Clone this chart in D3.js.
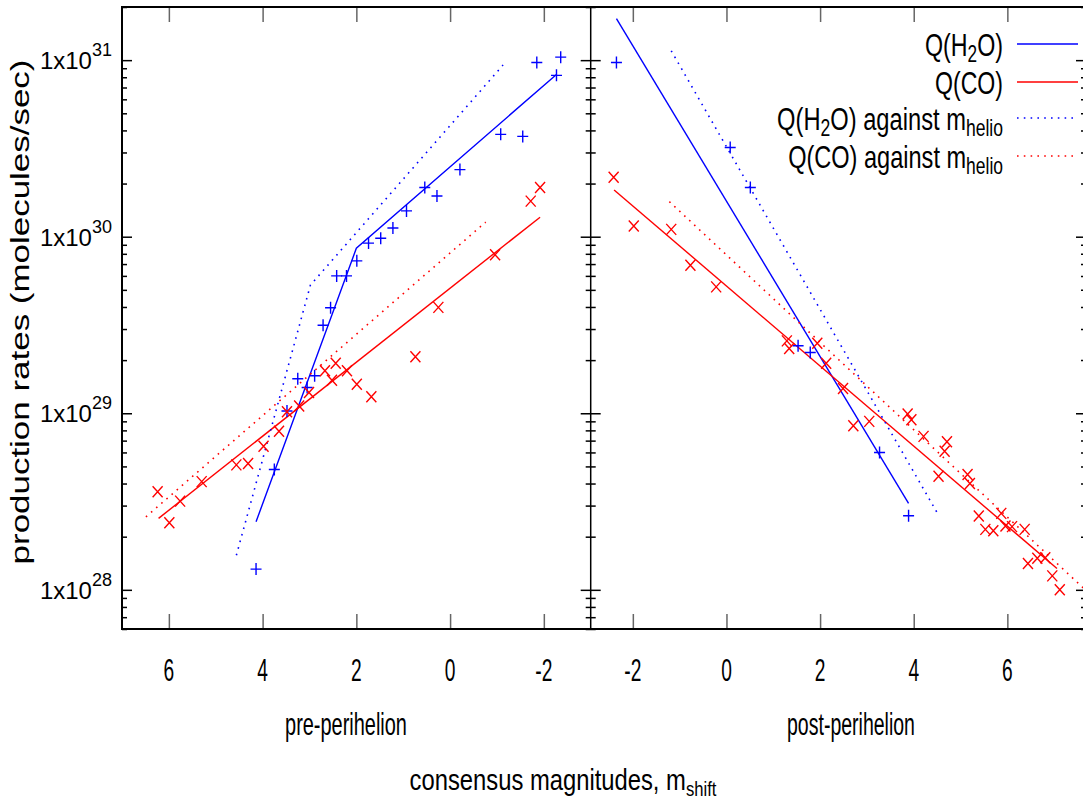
<!DOCTYPE html>
<html><head><meta charset="utf-8">
<script src="https://cdn.jsdelivr.net/npm/d3@7"></script>
<style>html,body{margin:0;padding:0;background:#fff;overflow:hidden}</style>
</head><body><svg id="c" width="1083" height="803"></svg>
<script>
// ---------------- DATA ----------------
// pre-perihelion, Q(H2O) observations
const preH2O_m = [-2.36,-1.85,-2.27,-1.08,-1.55,-0.21,0.28,0.54,0.93,1.22,1.48,1.74,1.99,2.21,2.42,2.55,2.71,2.89,3.25,3.05,3.48,3.75,4.14];
const preH2O_q = [1.04e31,9.7e30,8.2e30,3.8e30,3.7e30,2.4e30,1.7e30,1.9e30,1.4e30,1.12e30,9.8e29,9.2e29,7.3e29,6.0e29,6.0e29,3.96e29,3.15e29,1.63e29,1.57e29,1.40e29,1.03e29,4.8e28,1.31e28];
// pre-perihelion, Q(CO) observations
const preCO_m = [-1.92,-1.72,-0.96,0.25,0.74,2.20,2.44,2.67,2.52,1.99,1.68,3.01,3.22,3.48,3.65,3.98,4.31,4.56,5.30,5.76,6.24,5.99];
const preCO_q = [1.9e30,1.59e30,7.9e29,3.98e29,2.09e29,1.74e29,1.92e29,1.74e29,1.54e29,1.46e29,1.24e29,1.31e29,1.10e29,1.02e29,7.9e28,6.5e28,5.2e28,5.1e28,4.1e28,3.18e28,3.59e28,2.4e28];
// post-perihelion, Q(H2O) observations
const postH2O_m = [-2.35,0.08,0.51,1.53,1.79,3.27,3.89];
const postH2O_q = [9.7e30,3.2e30,1.9e30,2.41e29,2.21e29,6.0e28,2.63e28];
// post-perihelion, Q(CO) observations
const postCO_m = [-2.41,-1.98,-1.18,-0.77,-0.22,1.29,1.34,1.94,2.13,2.49,2.71,3.05,3.87,3.95,4.21,4.71,4.66,4.53,5.15,5.20,5.39,5.53,5.70,5.87,5.96,6.10,6.37,6.44,6.64,6.81,6.96,7.12];
const postCO_q = [2.17e30,1.15e30,1.10e30,6.9e29,5.2e29,2.57e29,2.33e29,2.49e29,1.92e29,1.38e29,8.5e28,9.0e28,9.9e28,9.2e28,7.4e28,6.9e28,6.1e28,4.4e28,4.5e28,4.0e28,2.62e28,2.20e28,2.16e28,2.71e28,2.30e28,2.28e28,2.20e28,1.41e28,1.51e28,1.52e28,1.20e28,1.0e28];

// fitted relations (solid: against m_shift, dotted: against m_helio)
const preH2OFit_m = [4.14, 2.0, -2.27];
const preH2OFit_q = [2.43e28, 8.6e29, 8.3e30];
const preCOFit_m = [6.22, -1.92];
const preCOFit_q = [2.54e28, 1.29e30];
const preH2OHelio_m = [4.56, 2.98, -1.13];
const preH2OHelio_q = [1.57e28, 5.32e29, 9.38e30];
const preCOHelio_m = [6.49, -0.76];
const preCOHelio_q = [2.59e28, 1.21e30];
const postH2OFit_m = [-2.35, 3.89];
const postH2OFit_q = [1.72e31, 3.09e28];
const postCOFit_m = [-2.40, 7.06];
const postCOFit_q = [1.84e30, 1.32e28];
const postH2OHelio_m = [-1.18, 4.53];
const postH2OHelio_q = [1.13e31, 2.65e28];
const postCOHelio_m = [-1.22, 7.7];
const postCOHelio_q = [1.58e30, 9.8e27];

const preTicks = [6, 4, 2, 0, -2];
const postTicks = [-2, 0, 2, 4, 6];
const yMajorTicks = [1e28, 1e29, 1e30, 1e31];
const yMajorExp = ["28", "29", "30", "31"];
const legendLabels = [["Q(H", "2", "O)", ""], ["Q(CO)", "", "", ""], ["Q(H", "2", "O) against m", "helio"], ["Q(CO) against m", "helio", "", ""]];

// ---------------- LAYOUT ----------------
const FONT = "'Liberation Sans', Arial, sans-serif";
const BLUE = "#0000ff", RED = "#ff0000";
const yTop = 7, yBot = 629;
const svg = d3.select("#c");

const y = d3.scaleLog().domain([6e27, 2e31]).range([yBot, yTop]);
const xL = d3.scaleLinear().domain([7, -3]).range([122, 590.7]);
const xR = d3.scaleLinear().domain([-2.9, 7.68]).range([590.7, 1086]);

const zip = (a, b) => a.map((v, i) => [v, b[i]]);

function fitText(parent, o) {
  const t = parent.append("text").attr("font-family", o.family || FONT)
    .attr("font-size", o.size).attr("fill", "#000").attr("text-anchor", o.anchor || "start");
  let cur = 0;
  o.parts.forEach(p => {
    if (!p.t) return;
    const ts = t.append("tspan").text(p.t);
    const sh = p.shift || 0;
    if (p.size) ts.attr("font-size", p.size);
    if (sh !== cur) { ts.attr("dy", sh - cur); cur = sh; }
  });
  const w = t.node().getComputedTextLength();
  const s = o.width ? o.width / w : (o.sx || 1);
  t.attr("transform", `translate(${o.x},${o.y})${o.rotate ? " rotate(" + o.rotate + ")" : ""} scale(${s},1)`);
  return t;
}

// clip paths
const defs = svg.append("defs");
defs.append("clipPath").attr("id", "clipL").append("rect").attr("x", 122).attr("y", yTop).attr("width", 590.7 - 122).attr("height", yBot - yTop);
defs.append("clipPath").attr("id", "clipR").append("rect").attr("x", 590.7).attr("y", yTop).attr("width", 1086 - 590.7).attr("height", yBot - yTop);

// y minor tick values
const yMinor = [];
for (let e = 27; e <= 31; e++) for (let k = 2; k <= 9; k++) { const v = k * Math.pow(10, e); if (v >= 6e27 && v <= 2e31) yMinor.push(v); }

function yTicks(xpos, dir) {
  const gen = dir > 0 ? d3.axisRight : d3.axisLeft;
  const g1 = svg.append("g").attr("transform", `translate(${xpos},0)`)
    .call(gen(y).tickValues(yMajorTicks).tickSize(10).tickFormat(""));
  const g2 = svg.append("g").attr("transform", `translate(${xpos},0)`)
    .call(gen(y).tickValues(yMinor).tickSize(5).tickFormat(""));
  [g1, g2].forEach(g => { g.select(".domain").remove(); g.selectAll("line").attr("stroke", "#000").attr("stroke-width", 1.5); });
}
function xTicks(scale, vals) {
  const gb = svg.append("g").attr("transform", `translate(0,${yBot})`).call(d3.axisTop(scale).tickValues(vals).tickSize(15).tickFormat(""));
  const gt = svg.append("g").attr("transform", `translate(0,${yTop})`).call(d3.axisBottom(scale).tickValues(vals).tickSize(15).tickFormat(""));
  [gb, gt].forEach(g => { g.select(".domain").remove(); g.selectAll("line").attr("stroke", "#666").attr("stroke-width", 1.5); });
}
yTicks(122, 1); yTicks(590.7, -1); yTicks(590.7, 1); yTicks(1086, -1);
xTicks(xL, preTicks); xTicks(xR, postTicks);

// frame
svg.append("rect").attr("x", 122).attr("y", yTop).attr("width", 1086 - 122).attr("height", yBot - yTop)
  .attr("fill", "none").attr("stroke", "#000").attr("stroke-width", 2);
svg.append("line").attr("x1", 590.7).attr("x2", 590.7).attr("y1", yTop).attr("y2", yBot).attr("stroke", "#000").attr("stroke-width", 1.5);

// marks
function drawPanel(xs, clip, sets) {
  const g = svg.append("g").attr("clip-path", `url(#${clip})`);
  const line = d3.line().x(d => xs(d[0])).y(d => y(d[1]));
  sets.lines.forEach(l => {
    g.append("path").attr("d", line(l.data)).attr("fill", "none").attr("stroke", l.color)
      .attr("stroke-width", l.dot ? 1.6 : 1.4).attr("stroke-dasharray", l.dot ? "1.6,5.2" : null);
  });
  sets.plus.forEach(s => {
    g.selectAll(null).data(s.data).enter().append("path")
      .attr("d", d => `M${xs(d[0]) - 5.5},${y(d[1])}h11M${xs(d[0])},${y(d[1]) - 6}v12`)
      .attr("stroke", s.color).attr("stroke-width", 1.4).attr("fill", "none");
  });
  sets.cross.forEach(s => {
    g.selectAll(null).data(s.data).enter().append("path")
      .attr("d", d => { const cx = xs(d[0]), cy = y(d[1]); return `M${cx - 5},${cy - 5.5}L${cx + 5},${cy + 5.5}M${cx - 5},${cy + 5.5}L${cx + 5},${cy - 5.5}`; })
      .attr("stroke", s.color).attr("stroke-width", 1.4).attr("fill", "none");
  });
}
drawPanel(xL, "clipL", {
  lines: [
    { data: zip(preH2OFit_m, preH2OFit_q), color: BLUE },
    { data: zip(preCOFit_m, preCOFit_q), color: RED },
    { data: zip(preH2OHelio_m, preH2OHelio_q), color: BLUE, dot: true },
    { data: zip(preCOHelio_m, preCOHelio_q), color: RED, dot: true }
  ],
  plus: [{ data: zip(preH2O_m, preH2O_q), color: BLUE }],
  cross: [{ data: zip(preCO_m, preCO_q), color: RED }]
});
drawPanel(xR, "clipR", {
  lines: [
    { data: zip(postH2OFit_m, postH2OFit_q), color: BLUE },
    { data: zip(postCOFit_m, postCOFit_q), color: RED },
    { data: zip(postH2OHelio_m, postH2OHelio_q), color: BLUE, dot: true },
    { data: zip(postCOHelio_m, postCOHelio_q), color: RED, dot: true }
  ],
  plus: [{ data: zip(postH2O_m, postH2O_q), color: BLUE }],
  cross: [{ data: zip(postCO_m, postCO_q), color: RED }]
});

// y tick labels
yMajorTicks.forEach((v, i) => {
  fitText(svg, { x: 112, y: y(v) + 9, size: 24, anchor: "end",
    parts: [{ t: "1x10" }, { t: yMajorExp[i], size: 18, shift: -13 }] });
});
// x tick labels
preTicks.forEach(v => fitText(svg, { x: xL(v), y: 681, size: 32, anchor: "middle", sx: 0.6, parts: [{ t: String(v) }] }));
postTicks.forEach(v => fitText(svg, { x: xR(v), y: 681, size: 32, anchor: "middle", sx: 0.6, parts: [{ t: String(v) }] }));

// axis titles
fitText(svg, { x: 346, y: 735, size: 31, anchor: "middle", width: 122, parts: [{ t: "pre-perihelion" }] });
fitText(svg, { x: 851, y: 735, size: 31, anchor: "middle", width: 128, parts: [{ t: "post-perihelion" }] });
fitText(svg, { x: 563, y: 790, size: 30, anchor: "middle", width: 307,
  parts: [{ t: "consensus magnitudes, m" }, { t: "shift", size: 21, shift: 6 }] });
fitText(svg, { x: 29, y: 312, size: 25, anchor: "middle", rotate: -90, width: 505,
  parts: [{ t: "production rates (molecules/sec)" }] });

// legend
const legY = [44, 82, 118, 156];
const legColor = [BLUE, RED, BLUE, RED];
const legDot = [false, false, true, true];
const legW = [78, 68, 226, 215];
legendLabels.forEach((lab, i) => {
  const parts = lab.map((t, j) => ({ t, size: j % 2 === 1 ? 23 : null, shift: j % 2 === 1 ? 6 : 0 }));
  fitText(svg, { x: 1003, y: legY[i] + 12, size: 31, anchor: "end", width: legW[i], parts });
  svg.append("line").attr("x1", 1017).attr("x2", 1078).attr("y1", legY[i]).attr("y2", legY[i])
    .attr("stroke", legColor[i]).attr("stroke-width", 1.6)
    .attr("stroke-dasharray", legDot[i] ? "1.6,5.2" : null);
});
</script></body></html>
